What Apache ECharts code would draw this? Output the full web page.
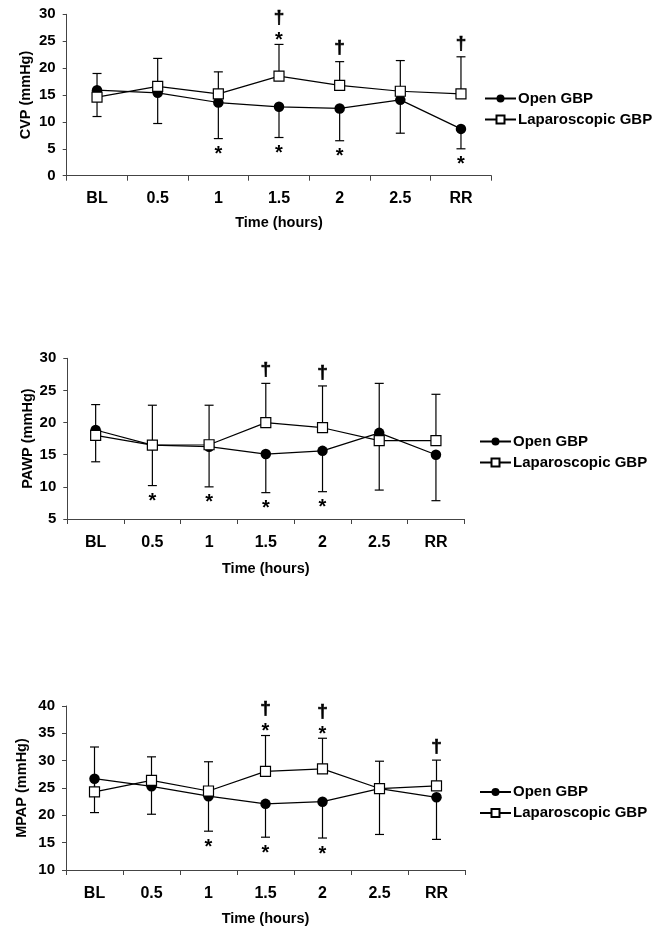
<!DOCTYPE html>
<html>
<head>
<meta charset="utf-8">
<script src="https://cdn.jsdelivr.net/npm/echarts@6/dist/echarts.min.js"></script>
<style>
html,body{margin:0;padding:0;background:#fff;}
#c{width:665px;height:927px;}
</style>
</head>
<body>
<div id="c"></div>
<script>
// ---- data ----
var categories = ['BL', '0.5', '1', '1.5', '2', '2.5', 'RR'];
var seriesNames = ['Open GBP', 'Laparoscopic GBP'];

var cvpOpen     = [15.9, 15.4, 13.6, 12.8, 12.5, 14.1, 8.7];
var cvpOpenLow  = [11.0, 9.7, 6.9, 7.1, 6.5, 7.9, 5.0];
var cvpLap      = [14.6, 16.6, 15.2, 18.5, 16.8, 15.7, 15.2];
var cvpLapHigh  = [19.0, 21.8, 19.3, 24.4, 21.2, 21.4, 22.1];
var cvpAbove    = ['', '', '', '*†', '†', '', '†'];
var cvpBelow    = ['', '', '*', '*', '*', '', '*'];

var pawpOpen    = [18.85, 16.5, 16.25, 15.1, 15.6, 18.4, 15.0];
var pawpOpenLow = [13.9, 10.2, 10.0, 9.1, 9.25, 9.5, 7.85];
var pawpLap     = [18.0, 16.5, 16.55, 20.0, 19.2, 17.2, 17.2];
var pawpLapHigh = [22.8, 22.7, 22.7, 26.1, 25.7, 26.1, 24.4];
var pawpAbove   = ['', '', '', '†', '†', '', ''];
var pawpBelow   = ['', '*', '*', '*', '*', '', ''];

var mpapOpen    = [26.7, 25.3, 23.5, 22.1, 22.5, 24.9, 23.3];
var mpapOpenLow = [20.5, 20.2, 17.1, 16.0, 15.85, 16.5, 15.6];
var mpapLap     = [24.3, 26.4, 24.45, 28.05, 28.5, 24.9, 25.4];
var mpapLapHigh = [32.5, 30.7, 29.8, 34.6, 34.1, 29.9, 30.1];
var mpapAbove   = ['', '', '', '*†', '*†', '', '†'];
var mpapBelow   = ['', '', '*', '*', '*', '', ''];

var yNames = ['CVP (mmHg)', 'PAWP (mmHg)', 'MPAP (mmHg)'];
var yMin = [0, 5, 10];
var yMax = [30, 30, 40];
var yInterval = [5, 5, 5];

// ---- layout / style ----
var FONT = 'Liberation Sans';
var grids = [
  {left: 66.7, top: 14.3, width: 424.6, height: 161.4},
  {left: 67.3, top: 358.3, width: 397, height: 160.7},
  {left: 66, top: 706, width: 399, height: 164}
];
var yNameGap = [33, 32, 36.5];
var xNameGap = [40, 42.5, 41];
var xLabelMargin = [15, 16, 16];
var legendPos = [{left: 479, top: 86}, {left: 474, top: 429}, {left: 474, top: 779.5}];

var panels = [
  {open: cvpOpen, openLow: cvpOpenLow, lap: cvpLap, lapHigh: cvpLapHigh, above: cvpAbove, below: cvpBelow},
  {open: pawpOpen, openLow: pawpOpenLow, lap: pawpLap, lapHigh: pawpLapHigh, above: pawpAbove, below: pawpBelow},
  {open: mpapOpen, openLow: mpapOpenLow, lap: mpapLap, lapHigh: mpapLapHigh, above: mpapAbove, below: mpapBelow}
];

function errorBarRender(params, api) {
  var i = api.value(0);
  var p0 = api.coord([i, api.value(1)]);
  var p1 = api.coord([i, api.value(2)]);
  var hw = 4.5;
  var st = {stroke: '#000', lineWidth: 1.2};
  return {
    type: 'group',
    children: [
      {type: 'line', shape: {x1: p0[0], y1: p0[1], x2: p1[0], y2: p1[1]}, style: st},
      {type: 'line', shape: {x1: p1[0] - hw, y1: p1[1], x2: p1[0] + hw, y2: p1[1]}, style: st}
    ]
  };
}

function marksRender(params, api) {
  var i = api.value(0);
  var top = api.coord([i, api.value(1)]);
  var bot = api.coord([i, api.value(2)]);
  var above = api.value(3);
  var below = api.value(4);
  var ch = [];
  function star(x, y) { // y = visual centre of glyph
    ch.push({type: 'text', style: {text: '*', x: x, y: y + 4.5, font: 'bold 20px ' + FONT, fill: '#000', align: 'center', verticalAlign: 'middle'}});
  }
  function dagger(x, y) {
    ch.push({type: 'text', style: {text: '†', x: x, y: y + 0.5, font: 'bold 19px ' + FONT, fill: '#000', align: 'center', verticalAlign: 'middle', stroke: '#000', lineWidth: 0.6}});
  }
  var x = top[0];
  if (above === '*†') {
    star(x, top[1] - 8.5);
    dagger(x, top[1] - 27);
  } else if (above === '†') {
    dagger(x, top[1] - 14);
  } else if (above === '*') {
    star(x, top[1] - 8.5);
  }
  if (below === '*') {
    star(x, bot[1] + 11.5);
  }
  return {type: 'group', children: ch};
}

var option = {
  animation: false,
  backgroundColor: '#fff',
  textStyle: {fontFamily: FONT, fontWeight: 'bold', color: '#000'},
  grid: [], xAxis: [], yAxis: [], series: [], legend: []
};

panels.forEach(function (p, k) {
  option.grid.push(Object.assign({containLabel: false}, grids[k]));
  option.xAxis.push({
    type: 'category', gridIndex: k, data: categories, boundaryGap: true,
    name: 'Time (hours)', nameLocation: 'middle', nameGap: xNameGap[k], nameMoveOverlap: false,
    nameTextStyle: {fontFamily: FONT, fontWeight: 'bold', fontSize: 14.5, color: '#000'},
    axisLine: {lineStyle: {color: '#444', width: 1}},
    axisTick: {show: true, inside: false, length: 5, interval: 0, alignWithLabel: false, lineStyle: {color: '#444'}},
    axisLabel: {interval: 0, margin: xLabelMargin[k], fontFamily: FONT, fontWeight: 'bold', fontSize: 16, color: '#000'},
    splitLine: {show: false}
  });
  option.yAxis.push({
    type: 'value', gridIndex: k, min: yMin[k], max: yMax[k], interval: yInterval[k],
    name: yNames[k], nameLocation: 'middle', nameGap: yNameGap[k], nameRotate: 90, nameMoveOverlap: false,
    nameTextStyle: {fontFamily: FONT, fontWeight: 'bold', fontSize: 14.5, color: '#000'},
    axisLine: {show: true, lineStyle: {color: '#444', width: 1}},
    axisTick: {show: true, inside: false, length: 4, lineStyle: {color: '#444'}},
    axisLabel: {margin: 11, fontFamily: FONT, fontWeight: 'bold', fontSize: 15, color: '#000'},
    splitLine: {show: false}
  });
  // error bars
  option.series.push({
    type: 'custom', xAxisIndex: k, yAxisIndex: k, renderItem: errorBarRender, z: 1,
    data: p.open.map(function (v, i) { return [i, v, p.openLow[i]]; })
  });
  option.series.push({
    type: 'custom', xAxisIndex: k, yAxisIndex: k, renderItem: errorBarRender, z: 1,
    data: p.lap.map(function (v, i) { return [i, v, p.lapHigh[i]]; })
  });
  // lines
  option.series.push({
    name: seriesNames[0], type: 'line', xAxisIndex: k, yAxisIndex: k, data: p.open, z: 3,
    symbol: 'circle', symbolSize: 10.5, showAllSymbol: true,
    lineStyle: {color: '#000', width: 1.2}, itemStyle: {color: '#000'}
  });
  option.series.push({
    name: seriesNames[1], type: 'line', xAxisIndex: k, yAxisIndex: k, data: p.lap, z: 4,
    symbol: 'rect', symbolSize: 10, showAllSymbol: true,
    lineStyle: {color: '#000', width: 1.2}, itemStyle: {color: '#fff', borderColor: '#000', borderWidth: 1.2}
  });
  // significance marks
  option.series.push({
    type: 'custom', xAxisIndex: k, yAxisIndex: k, renderItem: marksRender, z: 5,
    data: p.open.map(function (v, i) { return [i, p.lapHigh[i], p.openLow[i], p.above[i], p.below[i]]; })
  });
  option.legend.push({
    orient: 'vertical', left: legendPos[k].left, top: legendPos[k].top,
    itemWidth: 31, itemHeight: 10, itemGap: 6, selectedMode: false,
    data: seriesNames,
    textStyle: {fontFamily: FONT, fontWeight: 'bold', fontSize: 15, color: '#000', padding: [0, 0, 0, -3]}
  });
});

var chart = echarts.init(document.getElementById('c'), null, {renderer: 'canvas'});
chart.setOption(option);
</script>
</body>
</html>
